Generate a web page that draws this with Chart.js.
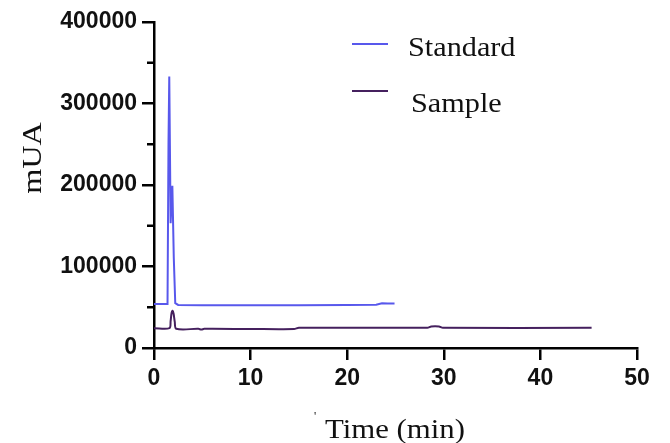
<!DOCTYPE html>
<html>
<head>
<meta charset="utf-8">
<script src="https://cdn.jsdelivr.net/npm/chart.js@4.4.1/dist/chart.umd.min.js"></script>
<style>
  html, body { margin: 0; padding: 0; background: #fff; }
  #wrap { width: 670px; height: 443px; }
</style>
</head>
<body>
<div id="wrap"><canvas id="chromChart"></canvas></div>
<script>
// chromatogram traces (time in min, signal in mUA)
const standardTime = [0, 1.4, 1.5, 1.58, 1.72, 1.9, 2.05, 2.2, 2.5, 5, 10, 15, 20, 23, 23.6, 24.2, 24.9];
const standardValue = [54000, 54000, 250000, 333000, 153000, 199000, 110000, 55000, 52800, 52500, 52500, 52500, 52800, 53200, 54800, 54500, 54500];

const sampleTime = [0, 1.6, 1.72, 1.82, 1.93, 2.03, 2.15, 2.3, 4.6, 4.9, 5.2, 10, 14.5, 15, 28.3, 28.7, 29.5, 29.9, 45.3];
const sampleValue = [24300, 24300, 33000, 43000, 45800, 42000, 32000, 23600, 23500, 22600, 23500, 23300, 23300, 24800, 24800, 26500, 26500, 24800, 24800];

const xTicks = [0, 10, 20, 30, 40, 50];
const yTicks = [0, 100000, 200000, 300000, 400000];
const yMinorTicks = [50000, 150000, 250000, 350000];

const seriesLabels = ["Standard", "Sample"];
const seriesColors = ["#5858ec", "#45205e"];

function toPoints(xs, ys) {
  return xs.map((x, i) => ({ x: x, y: ys[i] }));
}

const serif = "'Liberation Serif', 'Times New Roman', serif";

// text a bit wider than the font, like the original export
function wideText(ctx, text, x, y, stretch) {
  ctx.save();
  ctx.translate(x, y);
  ctx.scale(stretch, 1);
  ctx.fillText(text, 0, 0);
  ctx.restore();
}

// minor ticks, axis titles and the floating legend
const extrasPlugin = {
  id: "extras",
  afterDraw(chart) {
    const ctx = chart.ctx;
    const yScale = chart.scales.y;
    const left = chart.chartArea.left;
    ctx.save();
    ctx.strokeStyle = "#000";
    ctx.lineWidth = 2.5;
    yMinorTicks.forEach(v => {
      const py = yScale.getPixelForValue(v);
      ctx.beginPath();
      ctx.moveTo(left - 7, py);
      ctx.lineTo(left, py);
      ctx.stroke();
    });

    ctx.fillStyle = "#111";
    ctx.font = "28px " + serif;
    ctx.textAlign = "center";
    ctx.textBaseline = "middle";
    ctx.save();
    ctx.translate(34, 158);
    ctx.rotate(-Math.PI / 2);
    wideText(ctx, "mUA", 0, 0, 1.15);
    ctx.restore();
    ctx.textBaseline = "alphabetic";
    wideText(ctx, "Time (min)", 395, 438, 1.1);
    ctx.font = "12px " + serif;
    ctx.fillText("'", 315, 420);

    // legend
    const rows = [
      { lineY: 44, textX: 408, baseY: 56 },
      { lineY: 91, textX: 411, baseY: 112 }
    ];
    ctx.textAlign = "left";
    ctx.font = "28px " + serif;
    chart.data.datasets.forEach((ds, i) => {
      const r = rows[i];
      ctx.strokeStyle = ds.borderColor;
      ctx.lineWidth = 2;
      ctx.beginPath();
      ctx.moveTo(352, r.lineY);
      ctx.lineTo(388, r.lineY);
      ctx.stroke();
      ctx.fillStyle = "#111";
      wideText(ctx, ds.label, r.textX, r.baseY, 1.08);
    });
    ctx.restore();
  }
};

const tickFont = { family: "'Liberation Sans', Arial, sans-serif", size: 23, weight: "bold" };

const chart = new Chart(document.getElementById("chromChart"), {
  type: "line",
  data: {
    datasets: [
      {
        label: seriesLabels[0],
        data: toPoints(standardTime, standardValue),
        borderColor: seriesColors[0],
        borderWidth: 2,
        pointRadius: 0,
        tension: 0,
        fill: false
      },
      {
        label: seriesLabels[1],
        data: toPoints(sampleTime, sampleValue),
        borderColor: seriesColors[1],
        borderWidth: 2,
        pointRadius: 0,
        tension: 0.3,
        fill: false
      }
    ]
  },
  options: {
    responsive: true,
    maintainAspectRatio: false,
    animation: false,
    layout: { padding: { top: 22, right: 33, left: 0, bottom: 0 } },
    plugins: {
      legend: { display: false },
      tooltip: { enabled: false }
    },
    scales: {
      x: {
        type: "linear",
        min: 0,
        max: 50,
        afterBuildTicks: s => { s.ticks = xTicks.map(v => ({ value: v })); },
        afterFit: s => { s.height = 95; },
        border: { color: "#000", width: 2.5 },
        grid: { drawOnChartArea: false, drawTicks: true, tickLength: 12, color: "#000", lineWidth: 2.5 },
        ticks: { color: "#111", font: tickFont, padding: 5, maxRotation: 0 }
      },
      y: {
        min: 0,
        max: 400000,
        afterBuildTicks: s => { s.ticks = yTicks.map(v => ({ value: v })); },
        afterFit: s => { s.width = 154; },
        border: { color: "#000", width: 2.5 },
        grid: { drawOnChartArea: false, drawTicks: true, tickLength: 12, color: "#000", lineWidth: 2.5 },
        ticks: { color: "#111", font: tickFont, padding: 5, callback: v => String(v) }
      }
    }
  },
  plugins: [extrasPlugin]
});
</script>
</body>
</html>
